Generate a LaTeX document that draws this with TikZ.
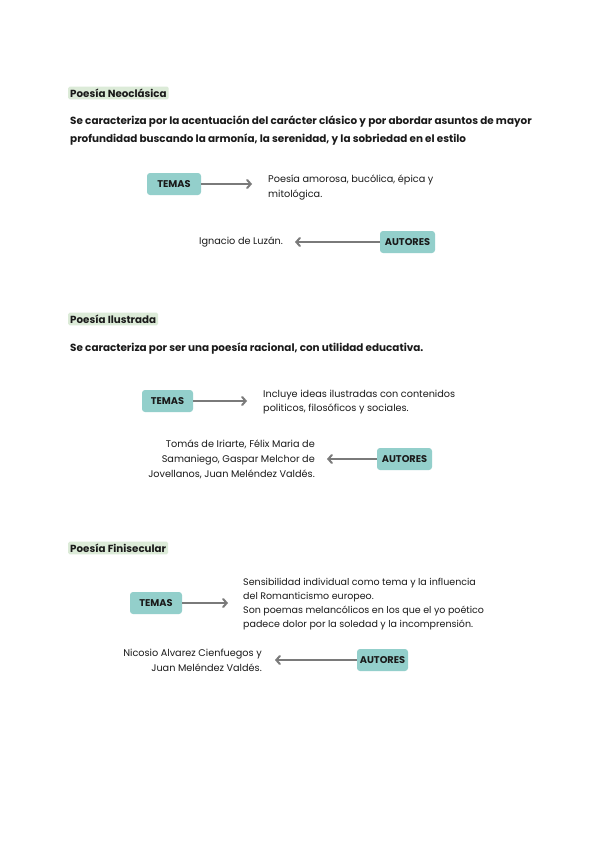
\documentclass[tikz,border=0pt]{standalone}
\usepackage{fontspec}
\setmainfont{Poppins}
\usetikzlibrary{arrows.meta}
\definecolor{teal1}{HTML}{93CFCB}
\definecolor{hgreen}{HTML}{DCEBD8}
\definecolor{arrgray}{HTML}{7A7A7A}
\definecolor{txt}{HTML}{1A1A1A}
\tikzset{
  head/.style={fill=hgreen, rounded corners=1.5pt, inner xsep=2pt, inner ysep=2pt, anchor=west, text=txt, font=\bfseries\fontsize{10.3}{12}\selectfont},
  para/.style={anchor=west, inner sep=0pt, align=left, text=txt, font=\bfseries\fontsize{10.4}{18}\selectfont},
  tagbox/.style={fill=teal1, rounded corners=3pt, minimum height=22pt, text=txt, font=\bfseries\fontsize{9.8}{11}\selectfont, inner sep=0pt},
  body/.style={inner sep=0pt, text=txt, font=\fontsize{9.7}{14.8}\selectfont},
  arr/.style={draw=arrgray, line width=2pt, -{Straight Barb[length=3.5pt,width=8pt,line cap=round]}},
}
\begin{document}
\begin{tikzpicture}[x=1pt,y=-1pt]
\useasboundingbox (0,0) rectangle (600,848);
\fill[white] (0,0) rectangle (600,848);
% Section 1
\node[head] (h1) at (68,93) {Poesía Neoclásica};
\node[para] (p1) at (70,131) {Se caracteriza por la acentuación del carácter clásico y por abordar asuntos de mayor\\profundidad buscando la armonía, la serenidad, y la sobriedad en el estilo};
\node[tagbox, minimum width=54pt] (t1) at (174,184) {TEMAS};
\coordinate (t1e) at (252,184);
\draw[arr] (t1.east) -- (t1e);
\node[body, anchor=west, align=left] (d1) at (268,187.5) {Poesía amorosa, bucólica, épica y\\mitológica.};
\node[tagbox, minimum width=55pt] (a1) at (407.5,242) {AUTORES};
\coordinate (a1e) at (295,242);
\draw[arr] (a1.west) -- (a1e);
\node[body, anchor=east, align=right] (n1) at (283,242) {Ignacio de Luzán.};
% Section 2
\node[head] (h2) at (68,319) {Poesía Ilustrada};
\node[para] (p2) at (70,349) {Se caracteriza por ser una poesía racional, con utilidad educativa.};
\node[tagbox, minimum width=51pt] (t2) at (167.5,401) {TEMAS};
\coordinate (t2e) at (247,401);
\draw[arr] (t2.east) -- (t2e);
\node[body, anchor=west, align=left] (d2) at (263,402) {Incluye ideas ilustradas con contenidos\\politicos, filosóficos y sociales.};
\node[tagbox, minimum width=55pt] (a2) at (404.5,459) {AUTORES};
\coordinate (a2e) at (327,459);
\draw[arr] (a2.west) -- (a2e);
\node[body, anchor=east, align=right] (n2) at (315,459.5) {Tomás de Iriarte, Félix Maria de\\Samaniego, Gaspar Melchor de\\Jovellanos, Juan Meléndez Valdés.};
% Section 3
\node[head] (h3) at (68,548) {Poesía Finisecular};
\node[tagbox, minimum width=52pt] (t3) at (156,603) {TEMAS};
\coordinate (t3e) at (228,603);
\draw[arr] (t3.east) -- (t3e);
\node[body, anchor=west, align=left, font=\fontsize{9.5}{14}\selectfont] (d3) at (243,604.5) {Sensibilidad individual como tema y la influencia\\del Romanticismo europeo.\\Son poemas melancólicos en los que el yo poético\\padece dolor por la soledad y la incomprensión.};
\node[tagbox, minimum width=51pt] (a3) at (382.5,660) {AUTORES};
\coordinate (a3e) at (275,660);
\draw[arr] (a3.west) -- (a3e);
\node[body, anchor=east, align=right] (n3) at (262,660.5) {Nicosio Alvarez Cienfuegos y\\Juan Meléndez Valdés.};
\end{tikzpicture}
\end{document}
